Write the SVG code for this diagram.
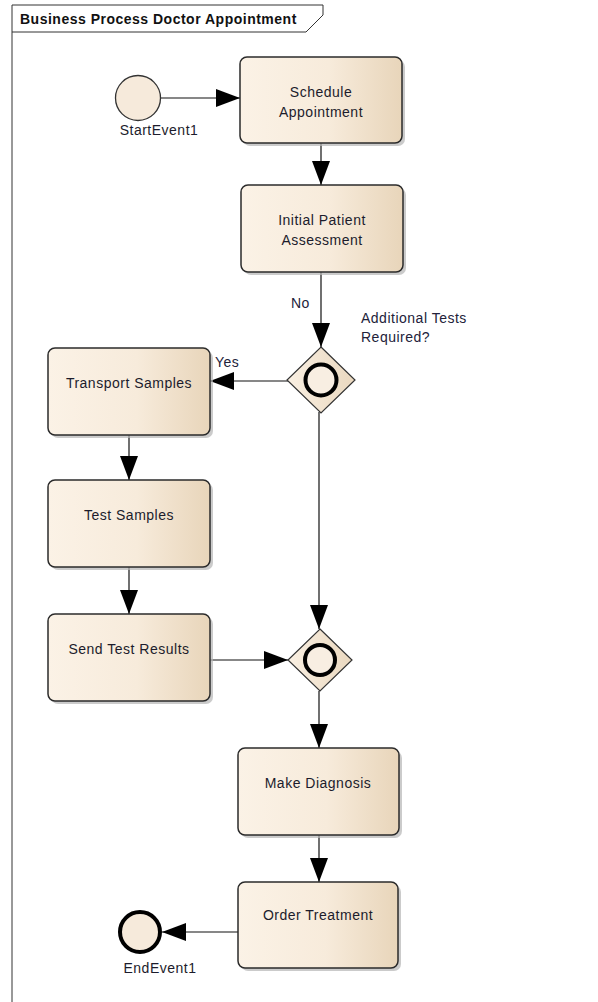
<svg xmlns="http://www.w3.org/2000/svg" width="598" height="1002" viewBox="0 0 598 1002">
<style>
  .frame { fill: none; stroke: #333; stroke-width: 1; }
  .title { font-family: "Liberation Sans", Arial, sans-serif; font-size: 14px; font-weight: bold; letter-spacing: 0.5px; fill: #111; }
  .box { fill: url(#boxGrad); stroke: #2b2b2b; stroke-width: 1.5; }
  .shadow { fill: #b5b5b5; opacity: 0.7; }
  .txt { font-family: "Liberation Sans", Arial, sans-serif; font-size: 14px; letter-spacing: 0.5px; fill: #1c1c2c; text-anchor: middle; }
  .lbl { font-family: "Liberation Sans", Arial, sans-serif; font-size: 14px; letter-spacing: 0.5px; fill: #22223a; }
  .conn { fill: none; stroke: #111; stroke-width: 1.2; }
  .gw { fill: url(#gwGrad); stroke: #333; stroke-width: 1.2; }
  .gwc { fill: #f8eee2; stroke: #000; stroke-width: 4; }
  .ev { fill: #f6eadb; stroke: #333; stroke-width: 1.3; }
  .evend { fill: #f6eadb; stroke: #000; stroke-width: 4; }
</style>
<defs>
  <linearGradient id="boxGrad" x1="0" y1="0" x2="1" y2="0">
    <stop offset="0" stop-color="#fbf2e6"/>
    <stop offset="0.55" stop-color="#f7ebdb"/>
    <stop offset="1" stop-color="#e8d5ba"/>
  </linearGradient>
  <linearGradient id="gwGrad" x1="0" y1="0" x2="1" y2="0">
    <stop offset="0" stop-color="#f9efe2"/>
    <stop offset="1" stop-color="#ead8bf"/>
  </linearGradient>
  <marker id="arr" markerUnits="userSpaceOnUse" markerWidth="26" markerHeight="20" refX="24" refY="9" orient="auto">
    <path d="M0,0 L24,9 L0,18 Z" fill="#000"/>
  </marker>
</defs>

<g id="frame">
  <path class="frame" d="M12,1002 L12,5 L323,5 L323,15 L306,32 L12,32"/>
  <text class="title" x="20" y="24">Business Process Doctor Appointment</text>
</g>

<g id="connectors">
  <line class="conn" x1="161" y1="98" x2="240" y2="98" marker-end="url(#arr)"/>
  <line class="conn" x1="321" y1="143" x2="321" y2="185" marker-end="url(#arr)"/>
  <line class="conn" x1="321" y1="272" x2="321" y2="347" marker-end="url(#arr)"/>
  <line class="conn" x1="288" y1="381" x2="210" y2="381" marker-end="url(#arr)"/>
  <line class="conn" x1="129" y1="435" x2="129" y2="480" marker-end="url(#arr)"/>
  <line class="conn" x1="129" y1="567" x2="129" y2="614" marker-end="url(#arr)"/>
  <line class="conn" x1="210" y1="660" x2="288" y2="660" marker-end="url(#arr)"/>
  <line class="conn" x1="319" y1="412" x2="319" y2="629" marker-end="url(#arr)"/>
  <line class="conn" x1="319" y1="691" x2="319" y2="748" marker-end="url(#arr)"/>
  <line class="conn" x1="319" y1="835" x2="319" y2="882" marker-end="url(#arr)"/>
  <line class="conn" x1="238" y1="932" x2="162" y2="932" marker-end="url(#arr)"/>
  <text class="lbl" x="291" y="308">No</text>
  <text class="lbl" x="215" y="367">Yes</text>
</g>

<g id="StartEvent1">
  <circle class="ev" cx="138" cy="98" r="22.5"/>
  <text class="txt" x="159" y="135">StartEvent1</text>
</g>

<g id="ScheduleAppointment">
  <rect class="shadow" x="243" y="60" width="162" height="86" rx="7"/>
  <rect class="box" x="240" y="57" width="162" height="86" rx="7"/>
  <text class="txt" x="321" y="97">Schedule</text>
  <text class="txt" x="321" y="117">Appointment</text>
</g>

<g id="InitialPatientAssessment">
  <rect class="shadow" x="244" y="188" width="162" height="87" rx="7"/>
  <rect class="box" x="241" y="185" width="162" height="87" rx="7"/>
  <text class="txt" x="322" y="225">Initial Patient</text>
  <text class="txt" x="322" y="245">Assessment</text>
</g>

<g id="Gateway1">
  <path class="gw" d="M321,347 L355,380 L321,413 L287,380 Z"/>
  <circle class="gwc" cx="321" cy="380" r="15.5"/>
  <text class="lbl" x="361" y="323">Additional Tests</text>
  <text class="lbl" x="361" y="342">Required?</text>
</g>

<g id="TransportSamples">
  <rect class="shadow" x="51" y="351" width="162" height="87" rx="7"/>
  <rect class="box" x="48" y="348" width="162" height="87" rx="7"/>
  <text class="txt" x="129" y="388">Transport Samples</text>
</g>

<g id="TestSamples">
  <rect class="shadow" x="51" y="483" width="162" height="87" rx="7"/>
  <rect class="box" x="48" y="480" width="162" height="87" rx="7"/>
  <text class="txt" x="129" y="520">Test Samples</text>
</g>

<g id="SendTestResults">
  <rect class="shadow" x="51" y="617" width="162" height="87" rx="7"/>
  <rect class="box" x="48" y="614" width="162" height="87" rx="7"/>
  <text class="txt" x="129" y="654">Send Test Results</text>
</g>

<g id="Gateway2">
  <path class="gw" d="M320,629 L352,660 L320,691 L288,660 Z"/>
  <circle class="gwc" cx="320" cy="660" r="15"/>
</g>

<g id="MakeDiagnosis">
  <rect class="shadow" x="241" y="751" width="161" height="87" rx="7"/>
  <rect class="box" x="238" y="748" width="161" height="87" rx="7"/>
  <text class="txt" x="318" y="788">Make Diagnosis</text>
</g>

<g id="OrderTreatment">
  <rect class="shadow" x="241" y="885" width="160" height="86" rx="7"/>
  <rect class="box" x="238" y="882" width="160" height="86" rx="7"/>
  <text class="txt" x="318" y="920">Order Treatment</text>
</g>

<g id="EndEvent1">
  <circle class="evend" cx="140" cy="932" r="20"/>
  <text class="txt" x="160" y="973">EndEvent1</text>
</g>
</svg>
